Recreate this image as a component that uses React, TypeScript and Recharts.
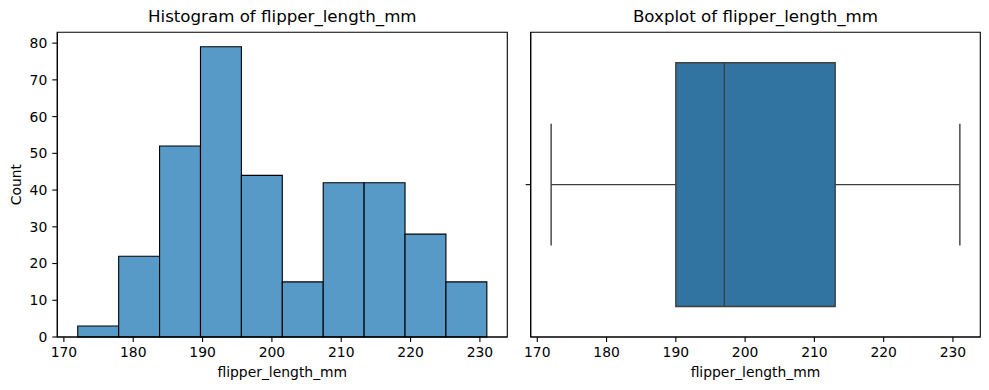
import { ComposedChart, XAxis, YAxis, ReferenceArea, ReferenceLine, Label } from "recharts";

// histogram bins of flipper_length_mm
const binEdges = [172, 177.9, 183.8, 189.7, 195.6, 201.5, 207.4, 213.3, 219.2, 225.1, 231];
const binCounts = [3, 22, 52, 79, 44, 15, 42, 42, 28, 15];

// boxplot: whisker low, q1, median, q3, whisker high
const boxStats = [172, 190, 197, 213, 231];

const xTicks = [170, 180, 190, 200, 210, 220, 230];
const countTicks = [0, 10, 20, 30, 40, 50, 60, 70, 80];
const xDomain = [169.05, 233.95];
const countDomain = [0, 82.95];
const boxDomain = [-0.5, 0.5];

const bins = binCounts.map((count, i) => ({ x0: binEdges[i], x1: binEdges[i + 1], count }));

const FONT = "'DejaVu Sans', sans-serif";
const tickStyle = { fill: "#000", fontSize: 13.9, fontFamily: FONT };
const labelStyle = { fill: "#000", fontSize: 13.9, fontFamily: FONT };

function Title({ text, left, width }: { text: string; left: number; width: number }) {
  return (
    <div
      style={{
        position: "absolute",
        left,
        top: 7,
        width,
        textAlign: "center",
        fontFamily: FONT,
        fontSize: 16.67,
        lineHeight: "20px",
        color: "#000",
        whiteSpace: "nowrap",
      }}
    >
      {text}
    </div>
  );
}

// top + right spines: outline of the whole plot area
function Frame({ x, y }: { x: number[]; y: number[] }) {
  return (
    <ReferenceArea
      x1={x[0]}
      x2={x[1]}
      y1={y[0]}
      y2={y[1]}
      fill="none"
      stroke="#000"
      strokeWidth={1.1}
      ifOverflow="visible"
    />
  );
}

function Histogram() {
  return (
    <ComposedChart width={510} height={390} data={bins} margin={{ top: 32.3, right: 2.7, left: 7.3, bottom: 13 }}>
      <XAxis
        type="number"
        dataKey="x0"
        domain={xDomain}
        allowDataOverflow
        ticks={xTicks}
        height={40}
        tick={tickStyle}
        tickSize={5}
        tickMargin={5}
        axisLine={{ stroke: "#000", strokeWidth: 1.1 }}
        tickLine={{ stroke: "#000", strokeWidth: 1.1 }}
      >
        <Label value="flipper_length_mm" position="insideBottom" offset={0} style={labelStyle} />
      </XAxis>
      <YAxis
        type="number"
        domain={countDomain}
        allowDataOverflow
        ticks={countTicks}
        width={50}
        tick={tickStyle}
        tickSize={5}
        tickMargin={5}
        axisLine={{ stroke: "#000", strokeWidth: 1.1 }}
        tickLine={{ stroke: "#000", strokeWidth: 1.1 }}
      >
        <Label value="Count" angle={-90} position="insideLeft" offset={9} style={{ ...labelStyle, textAnchor: "middle" }} />
      </YAxis>
      {bins.map((b, i) => (
        <ReferenceArea
          key={i}
          x1={b.x0}
          x2={b.x1}
          y1={0}
          y2={b.count}
          fill="#5799c7"
          fillOpacity={1}
          stroke="#000"
          strokeWidth={1.1}
          ifOverflow="visible"
        />
      ))}
      {Frame({ x: xDomain, y: countDomain })}
    </ComposedChart>
  );
}

function Boxplot() {
  const [lo, q1, med, q3, hi] = boxStats;
  const lineColor = "#3f3f3f";
  return (
    <ComposedChart width={479} height={390} data={[{ v: med }]} margin={{ top: 32.3, right: 8.7, left: 5.7, bottom: 13 }}>
      <XAxis
        type="number"
        dataKey="v"
        domain={xDomain}
        allowDataOverflow
        ticks={xTicks}
        height={40}
        tick={tickStyle}
        tickSize={5}
        tickMargin={5}
        axisLine={{ stroke: "#000", strokeWidth: 1.1 }}
        tickLine={{ stroke: "#000", strokeWidth: 1.1 }}
      >
        <Label value="flipper_length_mm" position="insideBottom" offset={0} style={labelStyle} />
      </XAxis>
      <YAxis
        type="number"
        domain={boxDomain}
        allowDataOverflow
        ticks={[0]}
        width={15}
        tickFormatter={() => ""}
        tickSize={5}
        axisLine={{ stroke: "#000", strokeWidth: 1.1 }}
        tickLine={{ stroke: "#000", strokeWidth: 1.1 }}
      />
      <ReferenceLine segment={[{ x: lo, y: 0 }, { x: q1, y: 0 }]} stroke={lineColor} strokeWidth={1.4} ifOverflow="visible" />
      <ReferenceLine segment={[{ x: q3, y: 0 }, { x: hi, y: 0 }]} stroke={lineColor} strokeWidth={1.4} ifOverflow="visible" />
      <ReferenceLine segment={[{ x: lo, y: -0.2 }, { x: lo, y: 0.2 }]} stroke={lineColor} strokeWidth={1.4} ifOverflow="visible" />
      <ReferenceLine segment={[{ x: hi, y: -0.2 }, { x: hi, y: 0.2 }]} stroke={lineColor} strokeWidth={1.4} ifOverflow="visible" />
      <ReferenceArea
        x1={q1}
        x2={q3}
        y1={-0.4}
        y2={0.4}
        fill="#3274a1"
        fillOpacity={1}
        stroke={lineColor}
        strokeWidth={1.4}
        ifOverflow="visible"
      />
      <ReferenceLine segment={[{ x: med, y: -0.4 }, { x: med, y: 0.4 }]} stroke={lineColor} strokeWidth={1.4} ifOverflow="visible" />
      {Frame({ x: xDomain, y: boxDomain })}
    </ComposedChart>
  );
}

export default function App() {
  return (
    <div style={{ position: "absolute", left: 0, top: 0, width: 989, height: 390, background: "#fff" }}>
      <div style={{ position: "absolute", left: 0, top: 0 }}>
        <Histogram />
      </div>
      <div style={{ position: "absolute", left: 510, top: 0 }}>
        <Boxplot />
      </div>
      <Title text="Histogram of flipper_length_mm" left={57.3} width={450} />
      <Title text="Boxplot of flipper_length_mm" left={530.7} width={449.6} />
    </div>
  );
}
